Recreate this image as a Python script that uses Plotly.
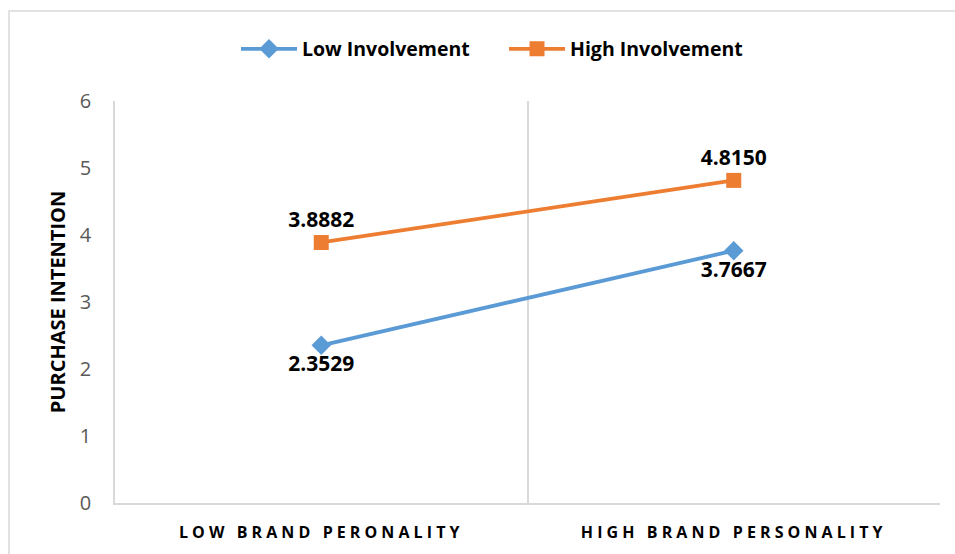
import plotly.graph_objects as go

# Category labels along the x axis
categories = ["LOW BRAND PERONALITY", "HIGH BRAND PERSONALITY"]

# Mean purchase intention per group
low_involvement = [2.3529, 3.7667]
high_involvement = [3.8882, 4.8150]

y_ticks = [0, 1, 2, 3, 4, 5, 6]

BLUE = "#5B9BD5"
ORANGE = "#ED7D31"
GRID = "#D9D9D9"
FONT = "Open Sans, Noto Sans, DejaVu Sans, sans-serif"

fig = go.Figure()

fig.add_trace(go.Scatter(
    x=categories, y=low_involvement, name="Low Involvement",
    mode="lines+markers+text",
    line=dict(color=BLUE, width=3.8),
    marker=dict(symbol="diamond", size=15, color=BLUE),
    text=[f"{v:.4f}" for v in low_involvement],
    textposition="bottom center",
    textfont=dict(family=FONT, size=21, color="black", weight="bold"),
))

fig.add_trace(go.Scatter(
    x=categories, y=high_involvement, name="High Involvement",
    mode="lines+markers+text",
    line=dict(color=ORANGE, width=3.8),
    marker=dict(symbol="square", size=15, color=ORANGE),
    text=[f"{v:.4f}" for v in high_involvement],
    textposition="top center",
    textfont=dict(family=FONT, size=21, color="black", weight="bold"),
))

tick_text = [f'<span style="letter-spacing:4.1px">{c}</span>' for c in categories]

fig.update_layout(
    width=955, height=554,
    margin=dict(l=115, r=15, t=101, b=51),
    paper_bgcolor="white", plot_bgcolor="white",
    font=dict(family=FONT, color="#595959"),
    showlegend=True,
    legend=dict(
        orientation="h", x=(236 - 115) / 825, xanchor="left", y=1.129, yanchor="middle",
        font=dict(family=FONT, size=19.5, color="black", weight="bold"),
        itemwidth=56, tracegroupgap=0,
        entrywidth=197, entrywidthmode="pixels",
    ),
    xaxis=dict(
        type="category", range=[-0.5, 1.5],
        tickson="boundaries", showgrid=True, gridcolor=GRID, gridwidth=1.5,
        showline=True, linecolor=GRID, linewidth=1.5,
        ticks="", tickvals=categories, ticktext=tick_text,
        tickfont=dict(family=FONT, size=16, color="black", weight="bold"),
        ticklabelstandoff=14,
    ),
    yaxis=dict(
        range=[0, 6], tickvals=y_ticks, showgrid=False, zeroline=False,
        showline=True, linecolor=GRID, linewidth=1.5, ticks="",
        tickfont=dict(family=FONT, size=20, color="#595959"),
        ticklabelstandoff=18,
        title=dict(text="PURCHASE INTENTION", standoff=9,
                   font=dict(family=FONT, size=20, color="black", weight="bold")),
    ),
    shapes=[dict(
        type="rect", xref="paper", yref="paper",
        x0=(9 - 115) / 825, x1=(960 - 115) / 825,
        y0=-0.2, y1=1 + (101 - 11) / 402,
        line=dict(color=GRID, width=1.5), fillcolor="rgba(0,0,0,0)", layer="below",
    )],
)

fig.write_html("out.html")
